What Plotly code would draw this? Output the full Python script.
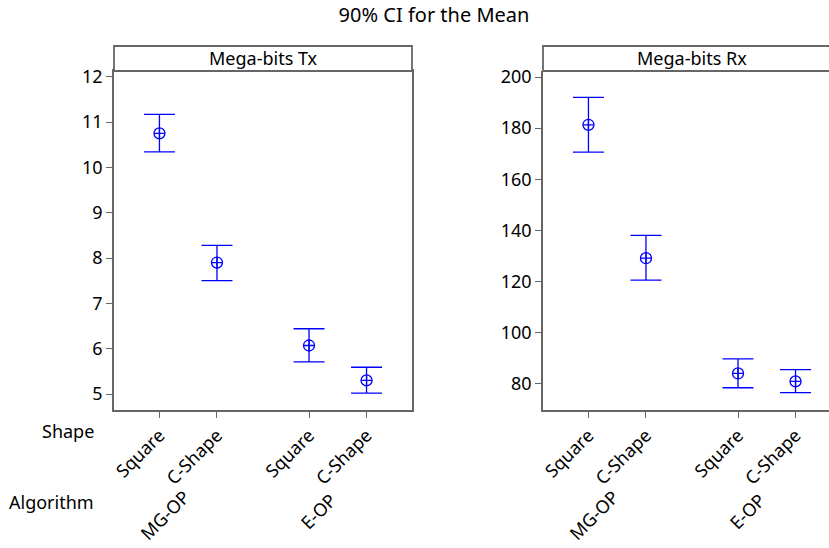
import plotly.graph_objects as go

# ---- data -------------------------------------------------------------
ALGORITHMS = ["MG-OP", "E-OP"]
SHAPES = ["Square", "C-Shape"]

# Mega-bits transmitted: mean and 90% confidence limits
tx_mean = [10.75, 7.90, 6.07, 5.30]
tx_lower = [10.34, 7.50, 5.71, 5.02]
tx_upper = [11.17, 8.28, 6.44, 5.59]

# Mega-bits received: mean and 90% confidence limits
rx_mean = [181.3, 129.1, 84.0, 80.9]
rx_lower = [170.6, 120.5, 78.4, 76.5]
rx_upper = [192.0, 138.0, 89.7, 85.5]

PANEL_TITLES = ["Mega-bits Tx", "Mega-bits Rx"]
Y_RANGES = [[4.647, 12.126], [69.7, 202.35]]
Y_DTICK = [1, 20]

# ---- layout geometry --------------------------------------------------
W, H = 829, 548
FONT = "Noto Sans, DejaVu Sans, sans-serif"
FONT_SIZE = 18
BLUE = "#0000FF"
FRAME = "#666666"

GROUP_STEP = 2.6  # distance between algorithm groups on the category axis
positions, tick_text, group_centres = [], [], []
for g, alg in enumerate(ALGORITHMS):
    xs = [g * GROUP_STEP + s for s in range(len(SHAPES))]
    positions += xs
    tick_text += SHAPES
    group_centres.append(sum(xs) / len(xs))

X_LO, X_HI = -0.79, 4.39
panel_px = [(114, 412), (543, 841)]          # full panel extents (px)
plot_top_px, plot_bot_px, head_top_px = 71, 410, 46
px_per_unit = (panel_px[0][1] - panel_px[0][0]) / (X_HI - X_LO)

y_dom = [(H - plot_bot_px) / H, (H - plot_top_px) / H]

fig = go.Figure()

series = [(tx_mean, tx_lower, tx_upper), (rx_mean, rx_lower, rx_upper)]
for i, (m, lo, up) in enumerate(series):
    xa = "x" if i == 0 else f"x{i + 1}"
    ya = "y" if i == 0 else f"y{i + 1}"
    fig.add_trace(go.Scatter(
        x=positions, y=m, xaxis=xa, yaxis=ya, mode="markers",
        marker=dict(symbol="circle-cross-open", size=11, color=BLUE,
                    line=dict(width=1.3, color=BLUE)),
        error_y=dict(type="data", symmetric=False,
                     array=[u - v for u, v in zip(up, m)],
                     arrayminus=[v - l for v, l in zip(m, lo)],
                     color=BLUE, thickness=1.3, width=15.5),
        showlegend=False, hoverinfo="skip",
    ))

    left_px, right_px = panel_px[i]
    vis_right = min(right_px, W)
    x_range = [X_LO, X_LO + (vis_right - left_px) / px_per_unit]
    axis_common = dict(showgrid=False, zeroline=False, showline=True,
                       automargin=False,
                       linecolor=FRAME, linewidth=1.5, ticks="outside",
                       ticklen=6, tickwidth=1.2, tickcolor=FRAME,
                       tickfont=dict(family=FONT, size=FONT_SIZE,
                                     color="black"))
    key = "" if i == 0 else str(i + 1)
    fig.update_layout(**{
        f"xaxis{key}": dict(
            axis_common, domain=[left_px / W, vis_right / W], range=x_range,
            tickmode="array", tickvals=positions, ticktext=tick_text,
            tickangle=-45, anchor=ya, mirror=(i == 0)),
        f"yaxis{key}": dict(
            axis_common, domain=y_dom, range=Y_RANGES[i], dtick=Y_DTICK[i],
            anchor=xa, mirror=(i == 0)),
    })

    # panel header strip
    fig.add_shape(type="rect", xref="paper", yref="paper",
                  x0=left_px / W, x1=right_px / W,
                  y0=(H - plot_top_px) / H, y1=(H - head_top_px) / H,
                  line=dict(color=FRAME, width=1.8), fillcolor="white",
                  layer="above")
    fig.add_annotation(xref="paper", yref="paper",
                       x=(left_px + right_px) / 2 / W,
                       y=(H - (plot_top_px + head_top_px) / 2) / H,
                       text=PANEL_TITLES[i], showarrow=False,
                       xanchor="center", yanchor="middle",
                       font=dict(family=FONT, size=FONT_SIZE, color="black"))

    # algorithm group labels: rotated text whose end sits under the group
    for c, alg in zip(group_centres, ALGORITHMS):
        half = 0.354 * len(alg) * 0.64 * FONT_SIZE   # half length along 45deg
        fig.add_annotation(xref=xa, yref="paper", x=c,
                           y=(H - (495 + half)) / H,
                           xshift=-(half + 3),
                           text=alg, showarrow=False, textangle=-45,
                           xanchor="center", yanchor="middle", borderpad=0,
                           font=dict(family=FONT, size=FONT_SIZE,
                                     color="black"))

# row captions for the category axis
for txt, ypx in [("Shape", 431), ("Algorithm", 502)]:
    fig.add_annotation(xref="paper", yref="paper", x=96 / W, y=(H - ypx) / H,
                       text=txt, showarrow=False, xanchor="right",
                       yanchor="middle",
                       font=dict(family=FONT, size=FONT_SIZE, color="black"))

fig.update_layout(
    width=W, height=H, margin=dict(l=0, r=0, t=0, b=0),
    paper_bgcolor="white", plot_bgcolor="white",
    title=dict(text="90% CI for the Mean", x=434 / W, xanchor="center",
               y=1 - 15 / H, yanchor="middle",
               font=dict(family=FONT, size=20, color="black")),
)

fig.write_html("out.html")
